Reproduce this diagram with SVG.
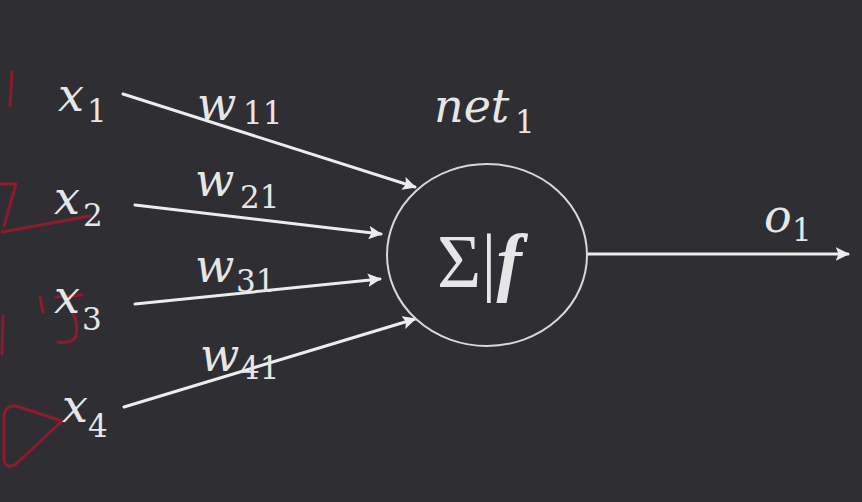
<svg xmlns="http://www.w3.org/2000/svg" width="862" height="502" viewBox="0 0 862 502">
<defs>
<style>
.v{font-family:"DejaVu Serif","Liberation Serif",serif;font-style:italic;font-size:46px;fill:#e6e6e6}
.s{font-family:"DejaVu Serif","Liberation Serif",serif;font-style:normal;font-size:31px;fill:#e6e6e6}
.c{stroke:#ececec;stroke-width:3;fill:none;stroke-linecap:round}
.r{stroke:#8e1b2c;stroke-width:3;fill:none;stroke-linecap:round;stroke-linejoin:round}
</style>
<marker id="ah" viewBox="0 0 10 10" refX="9" refY="5" markerWidth="4.5" markerHeight="4.5" orient="auto" markerUnits="strokeWidth">
<path d="M0,0 L10,5 L0,10 L2,5 z" fill="#ececec"/>
</marker>
</defs>
<rect width="862" height="502" fill="#2e2e33"/>
<g id="annotations">
<path class="r" d="M12,72 L10,106"/>
<path class="r" d="M0,184 L16,184 L4,226 M2,232 L90,216"/>
<path class="r" d="M40,297 L43,312 M56,297 L82,295 M72,312 Q79,322 76,336 Q72,344 58,342"/>
<path class="r" d="M3,316 L2,354"/>
<path class="r" d="M62,421 L16,406 Q4,405 4,418 L4,460 Q6,470 16,464 Z"/>
</g>
<g id="connectors">
<line class="c" x1="123" y1="94" x2="415" y2="187" marker-end="url(#ah)"/>
<line class="c" x1="135" y1="205" x2="381" y2="234" marker-end="url(#ah)"/>
<line class="c" x1="135" y1="304" x2="380" y2="279" marker-end="url(#ah)"/>
<line class="c" x1="124" y1="407" x2="415" y2="319" marker-end="url(#ah)"/>
<line class="c" x1="588" y1="254" x2="848" y2="254" marker-end="url(#ah)"/>
</g>
<g id="neuron">
<ellipse cx="487" cy="255" rx="100" ry="91" fill="none" stroke="#d8d8d8" stroke-width="2"/>
<text x="437" y="287" font-family="'Liberation Serif',serif" font-size="76" fill="#e6e6e6">Σ|<tspan font-style="italic" font-weight="bold">f</tspan></text>
</g>
<g id="net1"><text class="v" x="434" y="122">net<tspan class="s" x="515" y="133">1</tspan></text></g>
<g id="x1"><text class="v" x="58" y="111">x<tspan class="s" x="87" y="122">1</tspan></text></g>
<g id="x2"><text class="v" x="54" y="214">x<tspan class="s" x="83" y="226">2</tspan></text></g>
<g id="x3"><text class="v" x="54" y="313">x<tspan class="s" x="82" y="330">3</tspan></text></g>
<g id="x4"><text class="v" x="62" y="422">x<tspan class="s" x="88" y="437">4</tspan></text></g>
<g id="w11"><text class="v" x="197" y="120">w<tspan class="s" x="243" y="124">11</tspan></text></g>
<g id="w21"><text class="v" x="195" y="196">w<tspan class="s" x="240" y="208">21</tspan></text></g>
<g id="w31"><text class="v" x="195" y="282">w<tspan class="s" x="236" y="292">31</tspan></text></g>
<g id="w41"><text class="v" x="200" y="371">w<tspan class="s" x="240" y="379">41</tspan></text></g>
<g id="o1"><text class="v" x="764" y="232">o<tspan class="s" x="792" y="241">1</tspan></text></g>
</svg>
